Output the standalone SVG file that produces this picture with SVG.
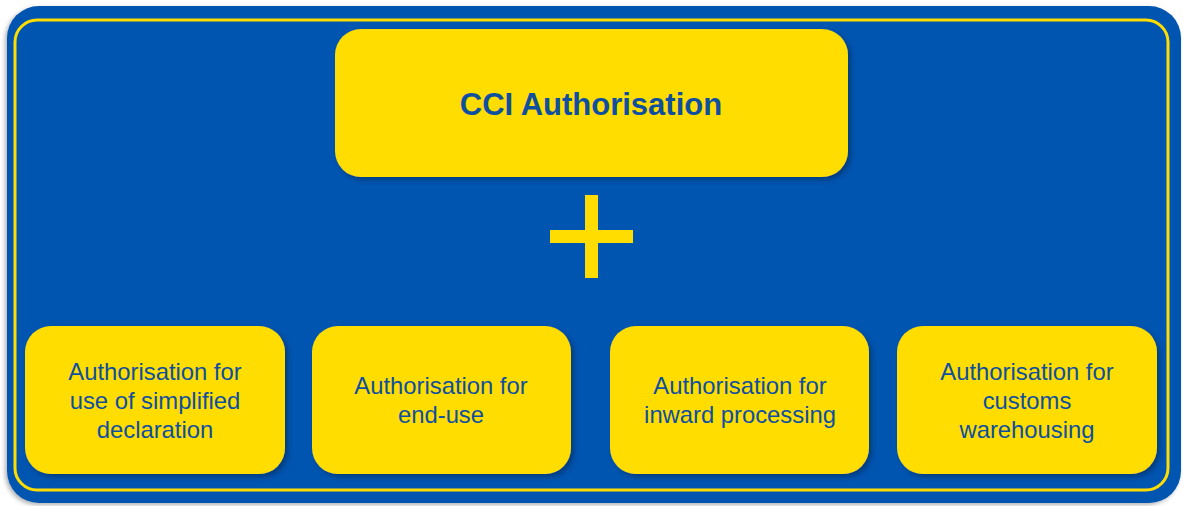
<svg xmlns="http://www.w3.org/2000/svg" width="1183" height="506" viewBox="0 0 1183 506">
<defs>
<style>
.box{fill:#FFDD00;}
.t{font-family:"Liberation Sans",Arial,sans-serif;font-size:23.8px;fill:#0E4FA0;text-anchor:middle;}
.tb{font-family:"Liberation Sans",Arial,sans-serif;font-size:31px;font-weight:bold;fill:#0E4FA0;text-anchor:middle;}
</style>
<filter id="sh" x="-10%" y="-10%" width="125%" height="130%">
<feGaussianBlur in="SourceAlpha" stdDeviation="2.5"/>
<feOffset dx="3" dy="3" result="b"/>
<feFlood flood-color="#0a2a5a" flood-opacity="0.6"/>
<feComposite in2="b" operator="in"/>
<feMerge><feMergeNode/><feMergeNode in="SourceGraphic"/></feMerge>
</filter>
<filter id="osh" x="-5%" y="-5%" width="110%" height="110%">
<feGaussianBlur in="SourceAlpha" stdDeviation="2"/>
<feOffset dx="-2" dy="2" result="b"/>
<feFlood flood-color="#000" flood-opacity="0.3"/>
<feComposite in2="b" operator="in"/>
<feMerge><feMergeNode/><feMergeNode in="SourceGraphic"/></feMerge>
</filter>
</defs>
<rect width="1183" height="506" fill="#FFFFFF"/>
<g id="frame">
<rect x="7" y="6" width="1174" height="497" rx="32" fill="#0455B0" filter="url(#osh)"/>
<rect x="15" y="20" width="1153" height="470" rx="22" fill="none" stroke="#FFDD00" stroke-width="3"/>
</g>
<g id="cci">
<rect class="box" x="335" y="29" width="513" height="148" rx="26" filter="url(#sh)"/>
<text class="tb" x="591" y="115">CCI Authorisation</text>
</g>
<g id="plus">
<rect x="585" y="195" width="13" height="83" fill="#FFDD00"/>
<rect x="550" y="230" width="83" height="13" fill="#FFDD00"/>
</g>
<g id="connectors"></g>
<g id="box1">
<rect class="box" x="25" y="326" width="260" height="148" rx="26" filter="url(#sh)"/>
<text class="t" x="155" y="380">Authorisation for</text>
<text class="t" x="155" y="409">use of simplified</text>
<text class="t" x="155" y="438">declaration</text>
</g>
<g id="box2">
<rect class="box" x="312" y="326" width="259" height="148" rx="26" filter="url(#sh)"/>
<text class="t" x="441" y="394">Authorisation for</text>
<text class="t" x="441" y="423">end-use</text>
</g>
<g id="box3">
<rect class="box" x="610" y="326" width="259" height="148" rx="26" filter="url(#sh)"/>
<text class="t" x="740" y="394">Authorisation for</text>
<text class="t" x="740" y="423">inward processing</text>
</g>
<g id="box4">
<rect class="box" x="897" y="326" width="260" height="148" rx="26" filter="url(#sh)"/>
<text class="t" x="1027" y="380">Authorisation for</text>
<text class="t" x="1027" y="409">customs</text>
<text class="t" x="1027" y="438">warehousing</text>
</g>
</svg>
